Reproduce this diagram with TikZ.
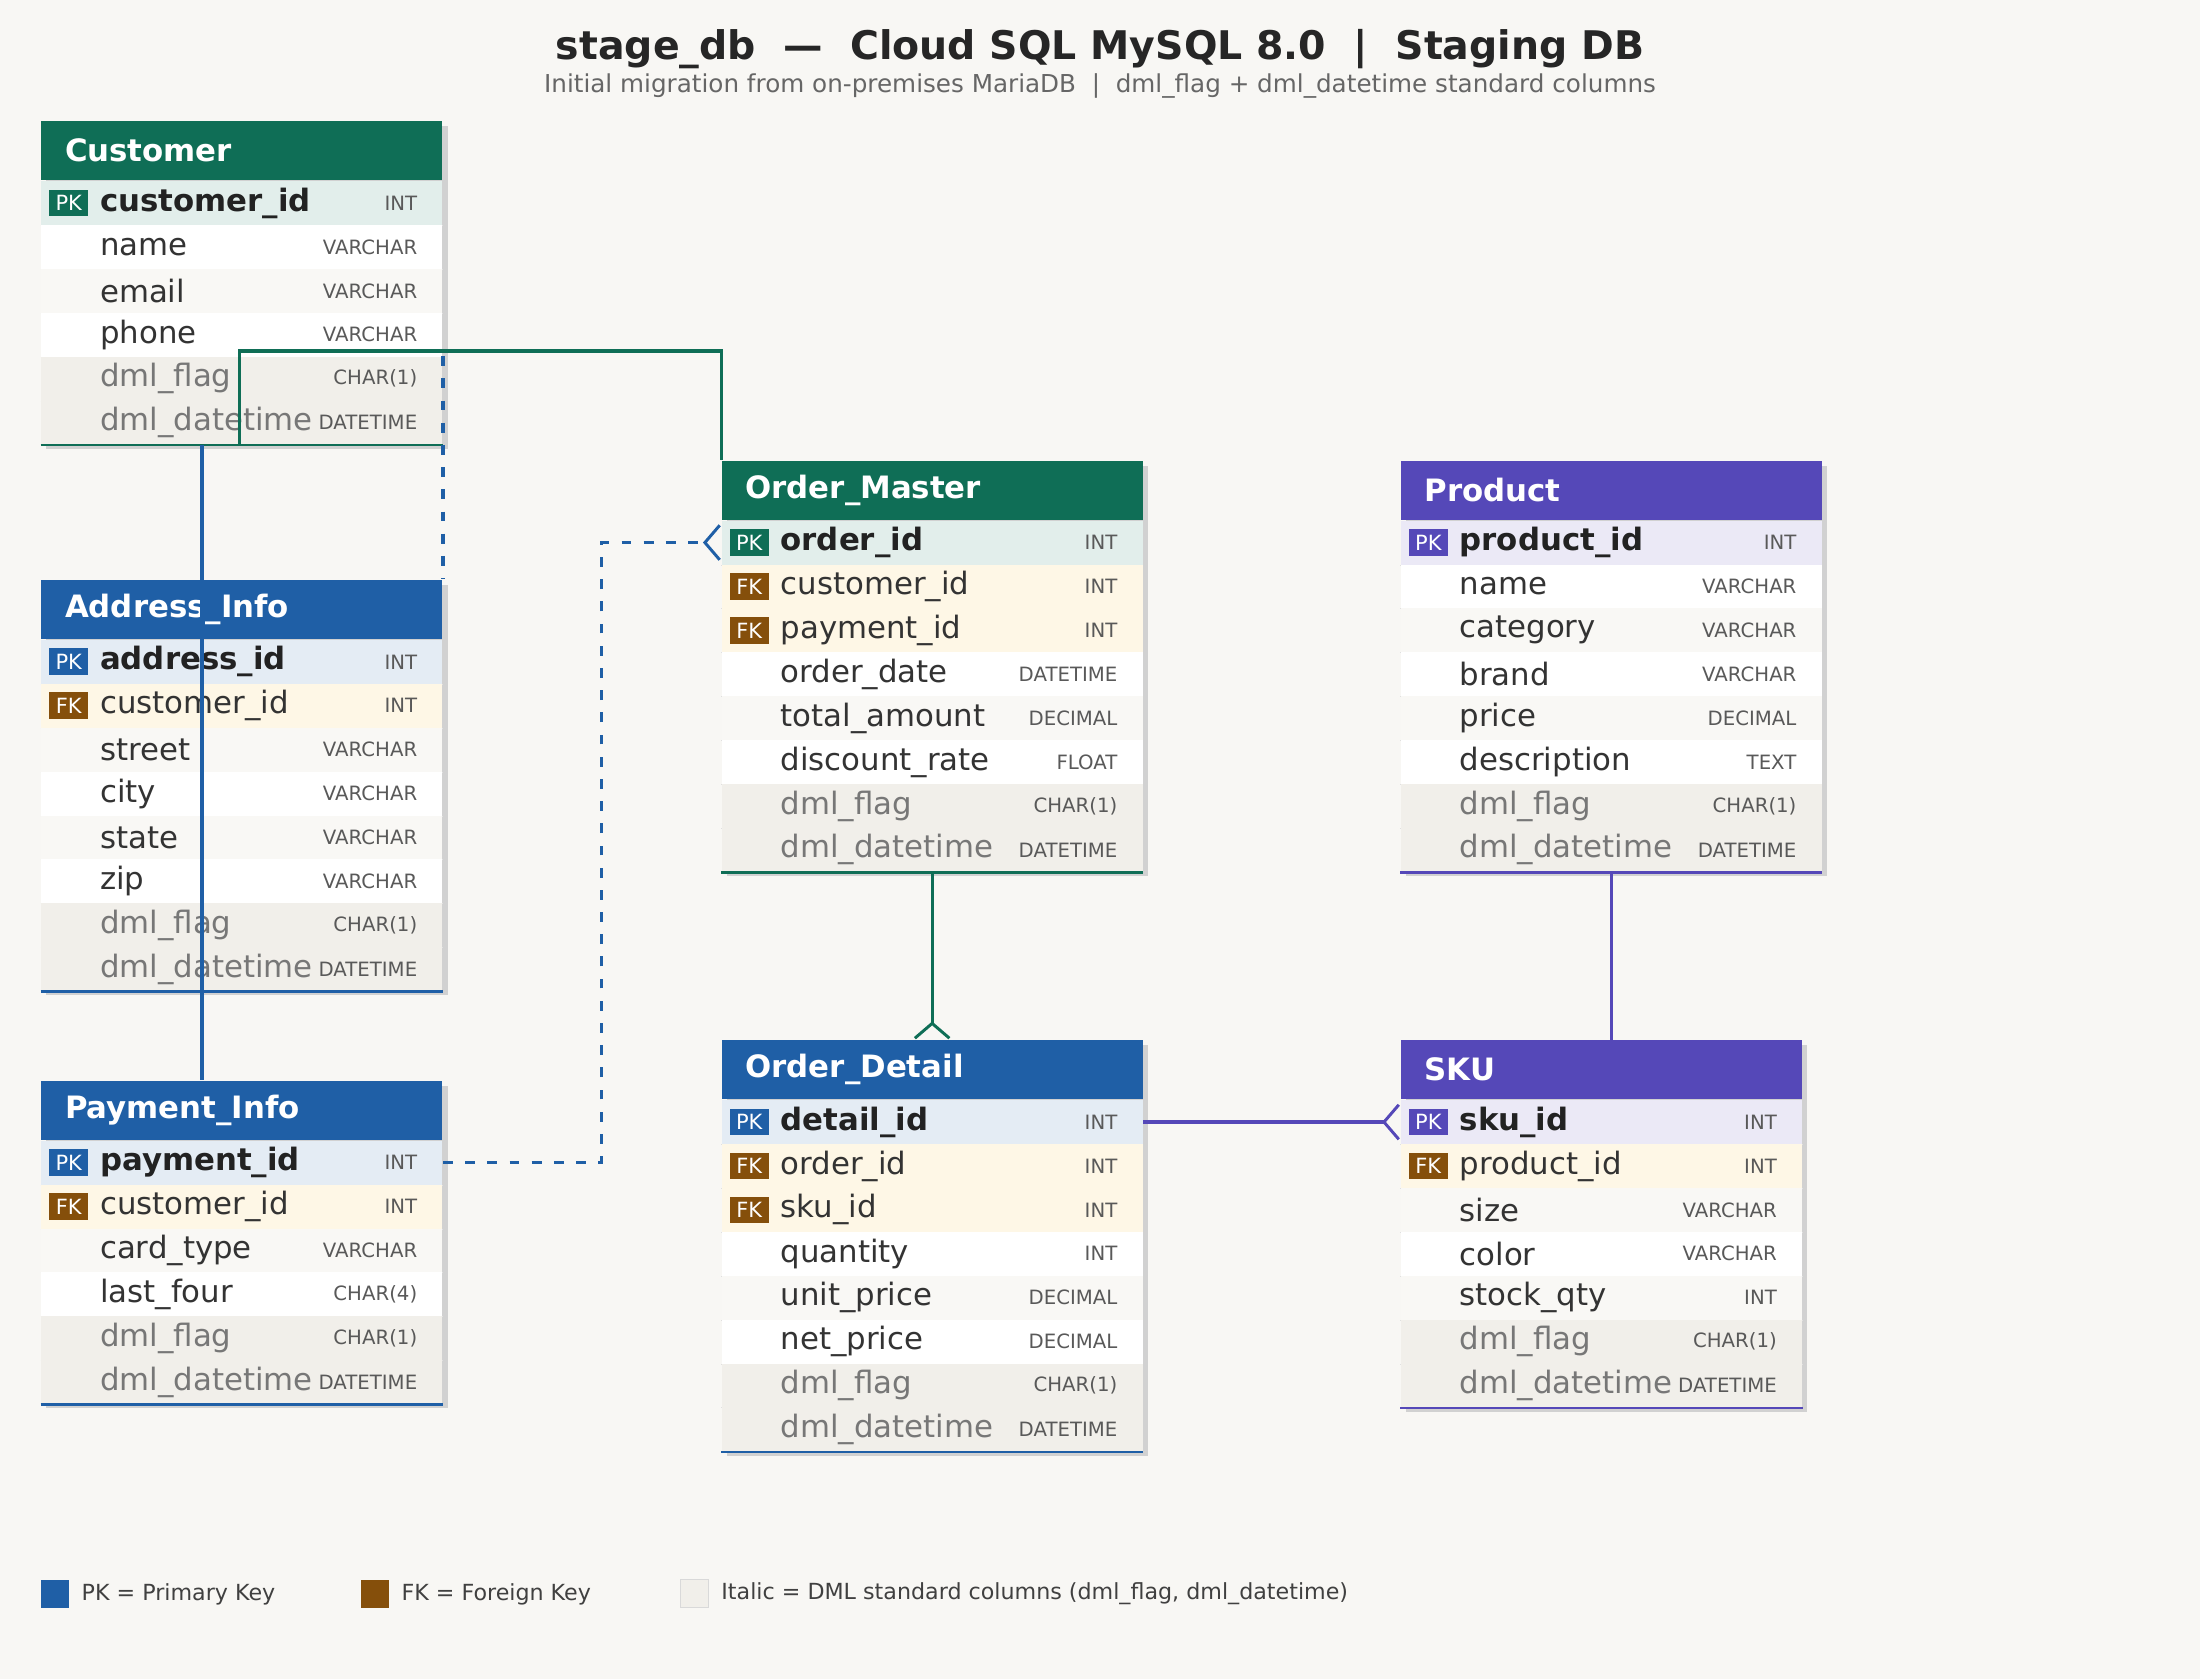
\documentclass[tikz,border=0pt]{standalone}
\usepackage{fontspec}
\setmainfont{DejaVu Sans}
\usetikzlibrary{arrows.meta}

\definecolor{bg}{HTML}{F8F7F4}
\definecolor{tgreen}{HTML}{0F6E56}
\definecolor{tblue}{HTML}{1F5FA6}
\definecolor{tpurple}{HTML}{5548B8}
\definecolor{fkbrown}{HTML}{854F0B}
\definecolor{fillf}{HTML}{FEF7E6}
\definecolor{fillw}{HTML}{FFFFFF}
\definecolor{filla}{HTML}{F9F8F5}
\definecolor{filld}{HTML}{F1EFEA}
\definecolor{txtp}{HTML}{222222}
\definecolor{txtf}{HTML}{333333}
\definecolor{txtw}{HTML}{333333}
\definecolor{txta}{HTML}{333333}
\definecolor{txtd}{HTML}{777777}

\newcommand{\rowfontp}{\bfseries\fontsize{12.5}{14}\selectfont}
\newcommand{\rowfontf}{\fontsize{12.5}{14}\selectfont}
\newcommand{\rowfontw}{\fontsize{12.5}{14}\selectfont}
\newcommand{\rowfonta}{\fontsize{12.5}{14}\selectfont}
\newcommand{\rowfontd}{\fontsize{12.5}{14}\selectfont}

\tikzset{
  hdr/.style={fill=#1, anchor=north west, minimum height=0.84cm, inner sep=0pt},
  htitle/.style={anchor=west, text=white, font=\bfseries\fontsize{12.5}{14}\selectfont, inner sep=0pt},
  row/.style={anchor=north west, minimum height=0.626cm, inner sep=0pt},
  ctype/.style={anchor=east, text=black!65, font=\fontsize{8}{9}\selectfont, inner sep=0pt},
  badge/.style={text=white, minimum width=0.56cm, minimum height=0.38cm, inner sep=0pt, font=\fontsize{8.5}{9}\selectfont},
  rel/.style={line width=1.3pt, draw=#1},
  dashrel/.style={line width=1.3pt, draw=#1, dash pattern=on 4pt off 5pt},
  crow/.style={-{Straight Barb[reversed, length=6pt, width=14pt, line width=1.2pt]}},
}

% #1 name, #2 title, #3 colour, #4 x, #5 y, #6 width, #7 last row, #8 rows
\newcommand{\ertable}[8]{
  \colorlet{fillp}{#3!12}
  \fill[black!18] (#4+4,#5+4) rectangle ++(#6,42+#7*31.3+31.3);
  \node[hdr=#3, minimum width=#6*0.02cm] (#1) at (#4,#5) {};
  \node[htitle] at ([xshift=0.34cm]#1.west) {#2};
  \foreach \k/\n/\t [count=\i from 0] in {#8} {
    \node[row, fill=fill\k, minimum width=#6*0.02cm] (#1-\i) at ([yshift=-\i*0.626cm]#1.south west) {};
    \draw[black!12] (#1-\i.south west) -- (#1-\i.south east);
    \node[anchor=west, inner sep=0pt, text=txt\k, font=\csname rowfont\k\endcsname] at ([xshift=0.84cm]#1-\i.west) {\n};
    \node[ctype] at ([xshift=-0.36cm]#1-\i.east) {\t};
    \if p\k \node[badge, fill=#3] at ([xshift=0.4cm]#1-\i.west) {PK};\fi
    \if f\k \node[badge, fill=fkbrown] at ([xshift=0.4cm]#1-\i.west) {FK};\fi
  }
  \draw[#3, line width=1pt] (#1-#7.south west) -- (#1-#7.south east);
}

\begin{document}
\begin{tikzpicture}[x=0.02cm, y=-0.02cm]
\fill[bg] (0,0) rectangle (1568,1197);

\node[font=\bfseries\fontsize{16}{18}\selectfont, text=black!85] (title) at (784,35) {stage\_db \ —\ \ Cloud SQL MySQL 8.0 \ |\ \ Staging DB};
\node[font=\fontsize{10}{12}\selectfont, text=black!60] (subtitle) at (784,61) {Initial migration from on-premises MariaDB \ |\ \ dml\_flag + dml\_datetime standard columns};

\ertable{Customer}{Customer}{tgreen}{29}{86}{286}{5}{
  p/customer\_id/INT, w/name/VARCHAR, a/email/VARCHAR, w/phone/VARCHAR,
  d/dml\_flag/CHAR(1), d/dml\_datetime/DATETIME}

\ertable{Address_Info}{Address\_Info}{tblue}{29}{413}{286}{7}{
  p/address\_id/INT, f/customer\_id/INT, a/street/VARCHAR, w/city/VARCHAR,
  a/state/VARCHAR, w/zip/VARCHAR, d/dml\_flag/CHAR(1), d/dml\_datetime/DATETIME}

\ertable{Payment_Info}{Payment\_Info}{tblue}{29}{770}{286}{5}{
  p/payment\_id/INT, f/customer\_id/INT, a/card\_type/VARCHAR, w/last\_four/CHAR(4),
  d/dml\_flag/CHAR(1), d/dml\_datetime/DATETIME}

\ertable{Order_Master}{Order\_Master}{tgreen}{514}{328}{300}{7}{
  p/order\_id/INT, f/customer\_id/INT, f/payment\_id/INT, w/order\_date/DATETIME,
  a/total\_amount/DECIMAL, w/discount\_rate/FLOAT, d/dml\_flag/CHAR(1), d/dml\_datetime/DATETIME}

\ertable{Order_Detail}{Order\_Detail}{tblue}{514}{741}{300}{7}{
  p/detail\_id/INT, f/order\_id/INT, f/sku\_id/INT, w/quantity/INT,
  a/unit\_price/DECIMAL, w/net\_price/DECIMAL, d/dml\_flag/CHAR(1), d/dml\_datetime/DATETIME}

\ertable{Product}{Product}{tpurple}{998}{328}{300}{7}{
  p/product\_id/INT, w/name/VARCHAR, a/category/VARCHAR, w/brand/VARCHAR,
  a/price/DECIMAL, w/description/TEXT, d/dml\_flag/CHAR(1), d/dml\_datetime/DATETIME}

\ertable{SKU}{SKU}{tpurple}{998}{741}{286}{6}{
  p/sku\_id/INT, f/product\_id/INT, a/size/VARCHAR, w/color/VARCHAR,
  a/stock\_qty/INT, d/dml\_flag/CHAR(1), d/dml\_datetime/DATETIME}

% relations
\draw[rel=tgreen] ([xshift=2.84cm]Customer-5.south west) -- ++(0,-67) -| (Order_Master.north west);
\draw[rel=tblue] ([xshift=2.3cm]Customer-5.south west) -- ([xshift=2.3cm]Payment_Info.north west);
\draw[dashrel=tblue] (Customer-4.north east) -- (Address_Info.north east);
\draw[dashrel=tblue, crow] (Payment_Info-0.east) -- ++(113,0) |- (Order_Master-0.west);
\draw[rel=tgreen, crow] (Order_Master-7.south) -- (Order_Detail.north);
\draw[rel=tpurple] (Product-7.south) -- (Product-7.south |- SKU.north);
\draw[rel=tpurple, crow] (Order_Detail-0.east) -- (SKU-0.west);

% legend
\node[fill=tblue, minimum size=0.4cm, inner sep=0pt] (lgpk) at (39,1136) {};
\node[anchor=west, font=\fontsize{9}{11}\selectfont, text=black!75] at (lgpk.east) {\,PK = Primary Key};
\node[fill=fkbrown, minimum size=0.4cm, inner sep=0pt] (lgfk) at (267,1136) {};
\node[anchor=west, font=\fontsize{9}{11}\selectfont, text=black!75] at (lgfk.east) {\,FK = Foreign Key};
\node[fill=filld, draw=black!15, minimum size=0.4cm, inner sep=0pt] (lgdml) at (495,1136) {};
\node[anchor=west, font=\fontsize{9}{11}\selectfont, text=black!75] at (lgdml.east) {\,Italic = DML standard columns (dml\_flag, dml\_datetime)};
\end{tikzpicture}
\end{document}
